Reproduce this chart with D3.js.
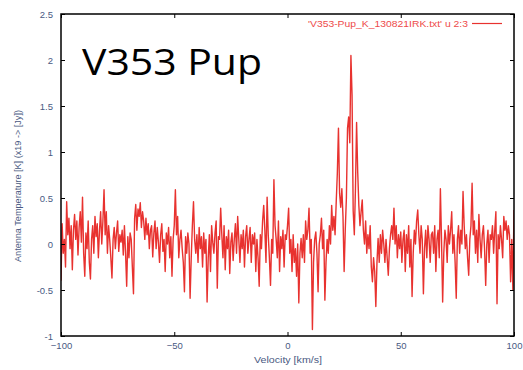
<!DOCTYPE html>
<html><head><meta charset="utf-8">
<script src="https://cdn.jsdelivr.net/npm/d3@7"></script>
<style>html,body{margin:0;padding:0;background:#fff;}svg{display:block;}</style>
</head><body>
<svg id="chart" width="523" height="370"></svg>
<script>
// Velocity grid (km/s) start/step and antenna temperature values
const vStart = -100;
const vStep = 0.5;
const temps = [
// -100 .. -90.5
-0.40,0.22,-0.10,0.05,-0.25,0.46,0.10,0.28,-0.05,0.20,-0.28,0.15,0.32,0.05,0.25,-0.12,0.18,0.35,0.02,0.51,
// -90 .. -80.5
-0.10,-0.35,0.12,-0.05,0.25,-0.20,-0.38,0.05,0.20,-0.10,0.30,0.08,0.22,-0.15,0.15,0.35,0.00,0.25,0.59,0.10,
// -80 .. -70.5
0.35,-0.10,0.20,0.05,-0.15,-0.37,0.05,0.18,-0.05,0.12,0.25,-0.08,0.10,0.02,0.15,-0.12,0.20,-0.10,-0.46,0.08,
// -70 .. -60.5
-0.15,0.12,0.05,-0.25,-0.54,0.28,0.43,0.15,0.38,0.30,0.45,0.18,0.35,0.25,0.05,0.28,0.10,0.22,-0.05,0.15,
// -60 .. -50.5
0.20,-0.14,0.12,0.25,-0.05,0.18,0.02,-0.20,0.10,0.22,-0.08,0.05,-0.30,0.12,0.00,0.18,-0.15,0.08,-0.35,0.05,
// -50 .. -40.5
0.20,0.59,0.10,0.30,-0.15,0.05,0.15,-0.05,-0.20,-0.52,0.08,-0.10,0.12,0.00,-0.59,-0.15,0.20,0.46,0.05,-0.10,
// -40 .. -30.5
0.10,-0.20,0.18,-0.05,0.08,-0.25,0.12,-0.10,0.05,-0.63,-0.15,0.10,-0.30,0.20,0.02,-0.10,0.12,0.25,-0.48,0.08,
// -30 .. -20.5
0.05,0.39,0.10,-0.15,0.20,-0.28,0.08,-0.05,0.15,-0.32,0.02,0.12,-0.18,0.05,0.22,-0.10,0.30,0.05,-0.20,0.10,
// -20 .. -10.5
-0.05,0.15,-0.25,0.08,0.20,-0.10,0.05,0.18,-0.20,0.10,0.00,0.12,-0.30,0.05,-0.15,-0.46,0.10,-0.05,0.25,0.42,
// -10 .. -0.5
0.15,-0.20,0.51,0.10,-0.15,-0.45,0.05,-0.10,0.70,0.20,0.05,-0.15,0.25,-0.30,0.08,-0.05,0.15,-0.25,0.10,0.05,
// 0 .. 9.5
0.20,0.39,-0.10,0.05,-0.30,0.10,-0.20,-0.05,-0.35,0.00,-0.64,-0.10,0.06,-0.15,0.10,-0.20,0.25,0.05,0.15,0.39,
// 10 .. 19.5
-0.10,0.05,-0.93,-0.20,0.05,0.13,-0.10,-0.52,0.00,0.10,0.28,-0.05,0.15,-0.61,-0.20,0.05,-0.10,0.20,0.00,0.42,
// 20 .. 29.5
0.15,0.30,0.10,0.45,0.77,1.26,0.55,0.40,0.60,0.30,-0.30,0.15,0.50,1.26,1.38,1.10,2.05,1.62,0.36,0.10,
// 30 .. 39.5
0.60,1.32,0.78,0.42,0.20,0.35,0.48,0.15,0.00,0.25,-0.10,0.10,-0.05,0.20,-0.25,-0.41,-0.15,-0.30,-0.68,-0.20,
// 40 .. 49.5
0.06,-0.20,0.10,-0.10,0.15,0.00,-0.20,0.05,-0.15,-0.34,-0.05,0.10,0.20,0.05,0.39,0.00,0.20,-0.15,0.10,-0.05,
// 50 .. 59.5
0.13,-0.20,0.05,0.15,-0.30,0.10,-0.10,0.20,-0.25,0.05,-0.57,-0.10,0.15,0.00,0.25,0.37,0.10,-0.10,0.20,0.05,
// 60 .. 69.5
-0.54,-0.05,0.15,-0.15,0.20,0.05,-0.20,0.10,0.13,-0.10,0.20,-0.30,0.05,0.15,-0.15,0.60,0.05,-0.63,-0.10,0.15,
// 70 .. 79.5
0.05,-0.20,0.20,0.00,0.15,0.35,-0.10,0.10,-0.20,-0.59,0.05,0.20,-0.10,0.15,0.00,0.57,0.20,-0.05,0.10,-0.15,
// 80 .. 89.5
-0.34,0.05,0.20,0.66,0.10,0.25,-0.10,0.15,-0.20,0.32,0.05,-0.15,0.10,0.20,-0.05,-0.45,0.00,0.15,-0.20,0.10,
// 90 .. 100
0.05,0.20,-0.10,0.15,0.35,-0.65,0.10,-0.05,0.20,0.05,-0.15,0.30,0.15,0.25,0.05,0.20,0.10,-0.41,0.05,-0.50,0.37
];
const xTicks = [-100, -50, 0, 50, 100];
const yTicks = [-1, -0.5, 0, 0.5, 1, 1.5, 2, 2.5];
const titleText = "V353 Pup";
const legendText = "'V353-Pup_K_130821IRK.txt' u 2:3";
const xLabel = "Velocity [km/s]";
const yLabel = "Antenna Temperature [K] (x19 -> [Jy])";

const data = temps.map((t, i) => ({v: vStart + i * vStep, t}));

const svg = d3.select("#chart");
const L = 61, R = 514, T = 14, B = 336;
const x = d3.scaleLinear().domain([-100, 100]).range([L, R]);
const y = d3.scaleLinear().domain([-1, 2.5]).range([B, T]);

const tickFont = "Liberation Sans, Arial, sans-serif";
const tickColor = "#4a5a82";

// data line
svg.append("clipPath").attr("id", "clip").append("rect")
  .attr("x", L).attr("y", T).attr("width", R - L).attr("height", B - T);
svg.append("path").datum(data)
  .attr("clip-path", "url(#clip)")
  .attr("fill", "none").attr("stroke", "#e8322f").attr("stroke-width", 1.4)
  .attr("stroke-linejoin", "round")
  .attr("d", d3.line().x(d => x(d.v)).y(d => y(d.t)));

// axes (ticks inward, mirrored)
const tl = 4;
const axB = svg.append("g").attr("transform", `translate(0,${B})`)
  .call(d3.axisBottom(x).tickValues(xTicks).tickSize(-tl).tickPadding(6).tickFormat(d3.format("d")));
const axT = svg.append("g").attr("transform", `translate(0,${T})`)
  .call(d3.axisTop(x).tickValues(xTicks).tickSize(-tl).tickFormat(""));
const axL = svg.append("g").attr("transform", `translate(${L},0)`)
  .call(d3.axisLeft(y).tickValues(yTicks).tickSize(-tl).tickPadding(8).tickFormat(d => String(d)));
const axR = svg.append("g").attr("transform", `translate(${R},0)`)
  .call(d3.axisRight(y).tickValues(yTicks).tickSize(-tl).tickFormat(""));
[axB, axT, axL, axR].forEach(g => {
  g.select(".domain").remove();
  g.selectAll(".tick line").attr("stroke", "#000").attr("stroke-width", 1);
  g.selectAll(".tick text").attr("fill", tickColor).attr("font-family", tickFont).attr("font-size", 9.5);
});
axB.selectAll(".tick text").attr("dy", "0.71em");

// frame
svg.append("rect").attr("x", L).attr("y", T).attr("width", R - L).attr("height", B - T)
  .attr("fill", "none").attr("stroke", "#000").attr("stroke-width", 1.5);

// legend
svg.append("text").attr("x", 468).attr("y", 27).attr("text-anchor", "end")
  .attr("font-family", tickFont).attr("font-size", 9.5).attr("fill", "#ee4a4a")
  .attr("textLength", 160).attr("lengthAdjust", "spacingAndGlyphs")
  .text(legendText);
svg.append("line").attr("x1", 472).attr("x2", 502).attr("y1", 23.5).attr("y2", 23.5)
  .attr("stroke", "#e8322f").attr("stroke-width", 1.2);

// axis labels
svg.append("text").attr("x", 288).attr("y", 363).attr("text-anchor", "middle")
  .attr("font-family", tickFont).attr("font-size", 9.5).attr("fill", tickColor)
  .attr("textLength", 68).attr("lengthAdjust", "spacingAndGlyphs").text(xLabel);
svg.append("text").attr("transform", "translate(21,186) rotate(-90)").attr("text-anchor", "middle")
  .attr("font-family", tickFont).attr("font-size", 9).attr("fill", tickColor)
  .attr("textLength", 152).attr("lengthAdjust", "spacingAndGlyphs").text(yLabel);

// big title
svg.append("text").attr("x", 82).attr("y", 74.5)
  .attr("font-family", "Open Sans, Noto Sans, sans-serif").attr("font-size", 37).attr("fill", "#000")
  .attr("textLength", 180).attr("lengthAdjust", "spacingAndGlyphs")
  .text(titleText);
</script>
</body></html>
